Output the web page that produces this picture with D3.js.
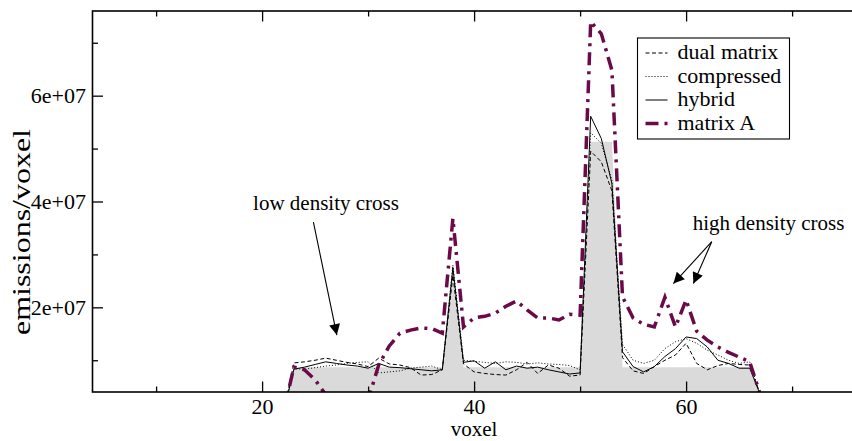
<!DOCTYPE html>
<html>
<head>
<meta charset="utf-8">
<script src="https://cdn.jsdelivr.net/npm/d3@7"></script>
<style>
body { margin: 0; background: #fff; }
text { font-family: "Liberation Serif", "Times New Roman", serif; fill: #000; }
</style>
</head>
<body>
<script>
// voxel index and emission values (in units of 1e6 emissions/voxel)
var voxel = [22, 23, 24, 25, 26, 27, 28, 29, 30, 31, 32, 33, 34, 35, 36, 37, 38, 39, 40, 41, 42, 43, 44, 45,
	46, 47, 48, 49, 50, 51, 52, 53, 54, 55, 56, 57, 58, 59, 60, 61, 62, 63, 64, 65, 66, 67, 68];

var trueActivity = [0, 8.7, 8.7, 8.7, 8.7, 8.7, 8.7, 8.7, 8.7, 8.7, 8.7, 8.7, 8.7, 8.7, 8.7, 8.7, 27, 8.7, 8.7, 8.7, 8.7, 8.7, 8.7, 8.7,
	8.7, 8.7, 8.7, 8.7, 8.7, 51.3, 51.3, 51.3, 8.7, 8.7, 8.7, 8.7, 8.7, 8.7, 8.7, 8.7, 8.7, 8.7, 8.7, 8.7, 8.7, 3.5, 0];

var dualMatrix = [0, 9.5, 9.7, 10.0, 10.4, 10.0, 9.6, 9.3, 8.8, 10.4, 9.3, 9.1, 8.6, 7.2, 7.3, 8.2, 26.0, 9.3, 7.8, 7.5, 7.3, 7.2, 8.2, 9.6,
	7.5, 9.1, 8.5, 7.0, 7.2, 49.5, 47.5, 42.0, 10.5, 8.0, 7.5, 8.8, 10.0, 11.0, 13.2, 9.4, 8.2, 9.0, 9.4, 9.2, 9.1, 3.5, 0];

var compressed = [0, 8.4, 8.3, 8.6, 8.9, 9.1, 9.4, 9.6, 9.7, 7.6, 7.8, 8.0, 8.5, 8.7, 8.9, 8.2, 28.0, 10.0, 9.8, 9.6, 9.4, 9.7, 9.6, 9.3,
	9.5, 9.3, 9.2, 9.0, 8.2, 53.0, 51.0, 44.0, 13.0, 10.0, 9.4, 10.0, 12.2, 13.5, 14.1, 13.2, 11.9, 11.0, 10.0, 9.4, 9.7, 3.5, 0];

var hybrid = [0, 8.3, 8.7, 9.2, 9.7, 9.4, 9.1, 8.9, 8.5, 9.4, 8.7, 8.6, 8.4, 8.2, 8.0, 8.2, 27.5, 9.6, 9.9, 8.5, 9.7, 8.2, 8.9, 8.5,
	8.7, 8.2, 7.8, 7.4, 7.6, 56.1, 51.9, 43.4, 11.6, 8.8, 7.8, 8.8, 10.7, 12.2, 14.4, 14.1, 12.5, 10.0, 9.4, 8.5, 8.5, 3.5, 0];

var matrixA = [0, 8.7, 8.2, 6.3, 3.5, 1.0, 0.5, 1.0, 2.5, 9.1, 12.7, 15.1, 15.7, 16.1, 16.0, 15.1, 36.8, 16.3, 18.0, 18.3, 18.9, 20.2, 21.2, 19.5,
	18.0, 18.0, 17.6, 18.7, 18.5, 74.0, 71.7, 64.8, 22.0, 18.0, 16.8, 16.3, 21.9, 16.3, 21.4, 15.5, 13.8, 12.5, 11.5, 10.6, 9.7, 3.5, 0];

var seriesNames = ['dual matrix', 'compressed', 'hybrid', 'matrix A'];
var yTickValues = [20, 40, 60],
	yTickLabels = ['2e+07', '4e+07', '6e+07'];
var xTickValues = [20, 40, 60];

var svgWidth = 852, svgHeight = 441;
var margin = {top: 11, left: 92.5},
	width = 763.2,
	height = 381;

var x = d3.scaleLinear()
	.domain([4, 76])
	.range([0, width]);

var y = d3.scaleLinear()
	.domain([4, 76])
	.range([height, 0]);

var chart = d3.select('body')
	.append('svg')
	.attr('width', svgWidth)
	.attr('height', svgHeight);

var defs = chart.append('defs');

defs.append('clipPath')
	.attr('id', 'plotclip')
	.append('rect')
	.attr('width', width)
	.attr('height', height);

defs.append('marker')
	.attr('id', 'arrowhead')
	.attr('viewBox', '0 0 10 10')
	.attr('refX', 10)
	.attr('refY', 5)
	.attr('markerUnits', 'userSpaceOnUse')
	.attr('markerWidth', 19)
	.attr('markerHeight', 11)
	.attr('orient', 'auto')
	.append('path')
	.attr('d', 'M0,0L10,5L0,10Z')
	.attr('fill', '#000');

var main = chart.append('g')
	.attr('transform', 'translate(' + margin.left + ',' + margin.top + ')');

var plot = main.append('g')
	.attr('clip-path', 'url(#plotclip)');

// grey area: true activity
var area = d3.area()
	.x(function(d, i) { return x(voxel[i]); })
	.y0(height)
	.y1(function(d) { return y(d); });

plot.append('path')
	.datum(trueActivity)
	.attr('d', area)
	.attr('fill', '#dadada');

var line = d3.line()
	.x(function(d, i) { return x(voxel[i]); })
	.y(function(d) { return y(d); });

var styles = [
	{data: dualMatrix, color: '#000', width: 1, dash: '4,2.5'},
	{data: compressed, color: '#000', width: 1, dash: '1,2'},
	{data: hybrid, color: '#000', width: 1, dash: null},
	{data: matrixA, color: '#6a0a48', width: 3.5, dash: '13,6,3,6'}
];

styles.forEach(function(s) {
	plot.append('path')
		.datum(s.data)
		.attr('d', line)
		.attr('fill', 'none')
		.attr('stroke', s.color)
		.attr('stroke-width', s.width)
		.attr('stroke-dasharray', s.dash);
});

// axes, ticks pointing inwards
var bottomMajor = d3.axisBottom(x).tickValues(xTickValues).tickSize(-10.5).tickPadding(6);
var bottomMinor = d3.axisBottom(x).tickValues([10, 30, 50, 70]).tickSize(-5.5).tickFormat('');
var topMajor = d3.axisTop(x).tickValues(xTickValues).tickSize(-10.5).tickFormat('');
var topMinor = d3.axisTop(x).tickValues([10, 30, 50, 70]).tickSize(-5.5).tickFormat('');
var leftMajor = d3.axisLeft(y).tickValues(yTickValues).tickSize(-10.5).tickPadding(6.5)
	.tickFormat(function(d, i) { return yTickLabels[i]; });
var leftMinor = d3.axisLeft(y).tickValues([10, 30, 50, 70]).tickSize(-5.5).tickFormat('');

function drawAxis(ax, transform) {
	var g = main.append('g')
		.attr('transform', transform)
		.call(ax);
	g.select('.domain').remove();
	g.selectAll('line').attr('stroke', '#000').attr('stroke-width', 1.3);
	g.selectAll('text')
		.attr('fill', '#000')
		.style('font-size', '22px')
		.style('font-family', '"Liberation Serif", "Times New Roman", serif');
	return g;
}

drawAxis(bottomMajor, 'translate(0,' + height + ')');
drawAxis(bottomMinor, 'translate(0,' + height + ')');
drawAxis(topMajor, 'translate(0,0)');
drawAxis(topMinor, 'translate(0,0)');
drawAxis(leftMajor, 'translate(0,0)');
drawAxis(leftMinor, 'translate(0,0)');

main.append('rect')
	.attr('width', width)
	.attr('height', height)
	.attr('fill', 'none')
	.attr('stroke', '#000')
	.attr('stroke-width', 1.6);

// axis titles
main.append('text')
	.attr('x', width / 2)
	.attr('y', height + 44)
	.attr('text-anchor', 'middle')
	.style('font-size', '21px')
	.text('voxel');

main.append('text')
	.attr('transform', 'translate(-63,221) rotate(-90)')
	.attr('text-anchor', 'middle')
	.attr('textLength', 206)
	.attr('lengthAdjust', 'spacingAndGlyphs')
	.style('font-size', '25px')
	.text('emissions/voxel');

// annotations
main.append('text')
	.attr('x', x(19.15))
	.attr('y', y(38.3))
	.style('font-size', '21px')
	.text('low density cross');

main.append('text')
	.attr('x', x(60.63))
	.attr('y', y(34.6))
	.style('font-size', '21px')
	.text('high density cross');

var arrows = [
	{from: [24.84, 36.1], to: [27.05, 14.75]},
	{from: [62.42, 32.4], to: [58.8, 24.5]},
	{from: [62.42, 32.4], to: [60.69, 24.5]}
];

main.selectAll('line.arrow')
	.data(arrows)
	.enter().append('line')
	.attr('class', 'arrow')
	.attr('x1', function(d) { return x(d.from[0]); })
	.attr('y1', function(d) { return y(d.from[1]); })
	.attr('x2', function(d) { return x(d.to[0]); })
	.attr('y2', function(d) { return y(d.to[1]); })
	.attr('stroke', '#000')
	.attr('stroke-width', 1.1)
	.attr('marker-end', 'url(#arrowhead)');

// legend
var legend = main.append('g')
	.attr('transform', 'translate(545,27)');

legend.append('rect')
	.attr('width', 152)
	.attr('height', 101)
	.attr('fill', '#fff')
	.attr('stroke', '#000')
	.attr('stroke-width', 1.1);

var rows = legend.selectAll('g.row')
	.data(styles)
	.enter().append('g')
	.attr('class', 'row')
	.attr('transform', function(d, i) { return 'translate(0,' + (21 + i * 23.5) + ')'; });

rows.append('line')
	.attr('x1', 8)
	.attr('x2', 30)
	.attr('y1', -6)
	.attr('y2', -6)
	.attr('stroke', function(d) { return d.color; })
	.attr('stroke-width', function(d) { return d.width; })
	.attr('stroke-dasharray', function(d) { return d.dash; });

rows.append('text')
	.attr('x', 40)
	.attr('y', 0)
	.style('font-size', '22px')
	.text(function(d, i) { return seriesNames[i]; });
</script>
</body>
</html>
